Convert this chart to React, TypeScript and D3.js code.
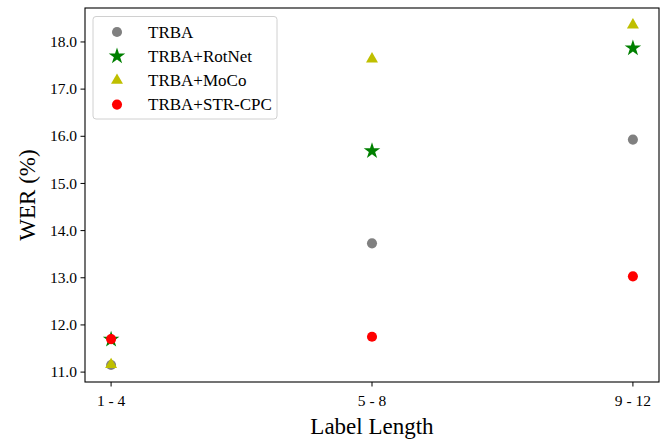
import React from "react";
import * as d3 from "d3";

const categories = ["1 - 4", "5 - 8", "9 - 12"];
const seriesNames = ["TRBA", "TRBA+RotNet", "TRBA+MoCo", "TRBA+STR-CPC"];
const trba = [11.15, 13.73, 15.93];
const rotnet = [11.69, 15.69, 17.87];
const moco = [11.16, 17.64, 18.36];
const strcpc = [11.7, 11.75, 13.03];
const yTicks = [11, 12, 13, 14, 15, 16, 17, 18];

const colors = ["#808080", "#008000", "#bfbf00", "#ff0000"];
const shapes = [d3.symbolCircle, d3.symbolStar, d3.symbolTriangle, d3.symbolCircle];
const sizes = [80, 85, 62, 80];

const W = 672;
const H = 439;
const m = { left: 85, right: 13, top: 8, bottom: 57 };
const font = "'Liberation Serif', 'Times New Roman', serif";

export default function App() {
  const values = [trba, rotnet, moco, strcpc];
  const x = d3.scaleLinear().domain([-0.1, 2.1]).range([m.left, W - m.right]);
  const y = d3.scaleLinear().domain([10.79, 18.72]).range([H - m.bottom, m.top]);
  const sym = (i: number) => d3.symbol().type(shapes[i]).size(sizes[i])() as string;

  return (
    <svg width={W} height={H} style={{ position: "absolute", left: 0, top: 0, background: "#fff" }}>
      {yTicks.map((t) => (
        <g key={t} transform={`translate(${m.left},${y(t)})`}>
          <line x1={-4.5} x2={0} stroke="#000" strokeWidth={1} />
          <text x={-8} dy="0.33em" textAnchor="end" fontFamily={font} fontSize={15.5}>
            {t.toFixed(1)}
          </text>
        </g>
      ))}
      {categories.map((c, i) => (
        <g key={c} transform={`translate(${x(i)},${H - m.bottom})`}>
          <line y1={0} y2={4.5} stroke="#000" strokeWidth={1} />
          <text y={24} textAnchor="middle" fontFamily={font} fontSize={15.5}>
            {c}
          </text>
        </g>
      ))}
      {values.map((vals, s) =>
        vals.map((v, i) => (
          <path key={`${s}-${i}`} d={sym(s)} fill={colors[s]} transform={`translate(${x(i)},${y(v)})`} />
        ))
      )}
      <rect
        x={m.left}
        y={m.top}
        width={W - m.left - m.right}
        height={H - m.top - m.bottom}
        fill="none"
        stroke="#000"
        strokeWidth={1.1}
      />
      <text
        x={(m.left + W - m.right) / 2}
        y={434}
        textAnchor="middle"
        fontFamily={font}
        fontSize={23}
      >
        Label Length
      </text>
      <text
        transform={`translate(35,${(m.top + H - m.bottom) / 2}) rotate(-90)`}
        textAnchor="middle"
        fontFamily={font}
        fontSize={23}
      >
        WER (%)
      </text>
      <g transform="translate(93,16.5)">
        <rect width={184} height={102.5} rx={3} fill="#fff" fillOpacity={0.8} stroke="#d0d0d0" strokeWidth={1} />
        {seriesNames.map((n, s) => (
          <g key={n} transform={`translate(0,${15.5 + s * 24.2})`}>
            <path d={sym(s)} fill={colors[s]} transform="translate(24,0)" />
            <text x={55} dy="0.33em" fontFamily={font} fontSize={17}>
              {n}
            </text>
          </g>
        ))}
      </g>
    </svg>
  );
}
